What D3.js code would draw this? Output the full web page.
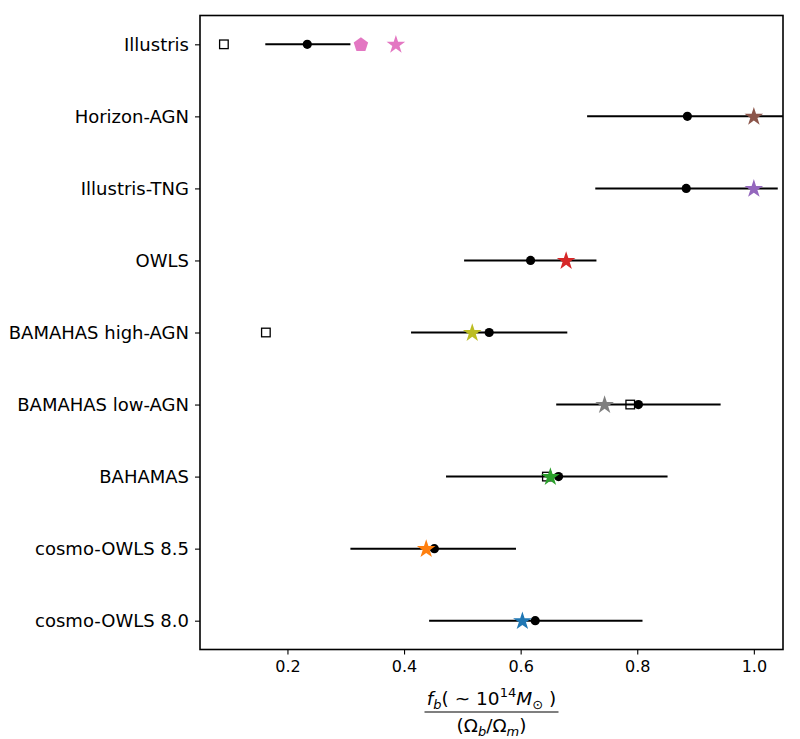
<!DOCTYPE html>
<html>
<head>
<meta charset="utf-8">
<script src="https://cdn.jsdelivr.net/npm/d3@7"></script>
<style>
  body { margin: 0; background: #fff; }
  svg { display: block; font-family: "DejaVu Sans", sans-serif; }
</style>
</head>
<body>
<svg id="chart" width="800" height="739"></svg>
<script>
// ---- data ----
const categories = ["cosmo-OWLS 8.0", "cosmo-OWLS 8.5", "BAHAMAS", "BAMAHAS low-AGN",
  "BAMAHAS high-AGN", "OWLS", "Illustris-TNG", "Horizon-AGN", "Illustris"];
const centralValues = [0.625, 0.452, 0.665, 0.802, 0.546, 0.617, 0.884, 0.886, 0.234];
const lowerValues   = [0.443, 0.308, 0.472, 0.661, 0.412, 0.503, 0.728, 0.714, 0.162];
const upperValues   = [0.809, 0.592, 0.852, 0.943, 0.680, 0.730, 1.041, 1.100, 0.308];
const starValues    = [0.603, 0.438, 0.651, 0.744, 0.517, 0.678, 1.000, 1.000, 0.386];
const starColors    = ["#1f77b4", "#ff7f0e", "#2ca02c", "#7f7f7f", "#bcbd22", "#d62728", "#9467bd", "#8c564b", "#e377c2"];
const squareCats    = ["BAMAHAS high-AGN", "BAMAHAS low-AGN", "BAHAMAS", "Illustris"];
const squareValues  = [0.163, 0.788, 0.645, 0.091];
const pentagonCats  = ["Illustris"];
const pentagonValues = [0.326];
const xTicks = [0.2, 0.4, 0.6, 0.8, 1.0];

// ---- layout ----
const svg = d3.select("#chart");
const L = 200, R = 783, T = 15.5, B = 649.5;
const x = d3.scaleLinear().domain([0.05, 1.05]).range([L, R]);
const y = d3.scaleLinear().domain([-0.4, 8.4]).range([B, T]);
const yOf = c => y(categories.indexOf(c));

svg.append("defs").append("clipPath").attr("id", "clip")
  .append("rect").attr("x", L).attr("y", T).attr("width", R - L).attr("height", B - T);

const plot = svg.append("g").attr("clip-path", "url(#clip)");

function polyPath(n, rOuter, rInner) {
  const pts = [];
  const k = rInner == null ? n : 2 * n;
  for (let i = 0; i < k; i++) {
    const a = -Math.PI / 2 + i * 2 * Math.PI / k;
    const r = (rInner == null || i % 2 === 0) ? rOuter : rInner;
    pts.push([r * Math.cos(a), r * Math.sin(a)]);
  }
  return "M" + pts.map(p => p[0].toFixed(2) + "," + p[1].toFixed(2)).join("L") + "Z";
}

// squares
plot.selectAll(".sq").data(squareCats.map((c, i) => ({c, v: squareValues[i]})))
  .enter().append("rect")
  .attr("x", d => x(d.v) - 4.3).attr("y", d => yOf(d.c) - 4.3)
  .attr("width", 8.6).attr("height", 8.6)
  .attr("fill", "#fff").attr("stroke", "#000").attr("stroke-width", 1.3);

// error bars
const rows = categories.map((c, i) => ({c, i, v: centralValues[i], lo: lowerValues[i], hi: upperValues[i], s: starValues[i], col: starColors[i]}));
plot.selectAll(".eb").data(rows).enter().append("line")
  .attr("x1", d => x(d.lo)).attr("x2", d => x(d.hi))
  .attr("y1", d => y(d.i)).attr("y2", d => y(d.i))
  .attr("stroke", "#000").attr("stroke-width", 2);
plot.selectAll(".dot").data(rows).enter().append("circle")
  .attr("cx", d => x(d.v)).attr("cy", d => y(d.i)).attr("r", 4.6).attr("fill", "#000");

// stars
const starD = polyPath(5, 9.8, 9.8 * 0.381966);
plot.selectAll(".star").data(rows).enter().append("path")
  .attr("d", starD)
  .attr("transform", d => `translate(${x(d.s)},${y(d.i) + 0.5})`)
  .attr("fill", d => d.col);

// pentagon
const pentD = polyPath(5, 7.6);
plot.selectAll(".pent").data(pentagonCats.map((c, i) => ({c, v: pentagonValues[i]})))
  .enter().append("path")
  .attr("d", pentD)
  .attr("transform", d => `translate(${x(d.v)},${yOf(d.c) + 0.5})`)
  .attr("fill", "#e377c2");

// axes
const xAxis = d3.axisBottom(x).tickValues(xTicks).tickFormat(d3.format(".1f")).tickSize(5).tickPadding(6);
const gx = svg.append("g").attr("transform", `translate(0,${B})`).call(xAxis);
gx.select(".domain").remove();
gx.selectAll("line").attr("stroke", "#000").attr("stroke-width", 1.1);
gx.selectAll("text").attr("font-size", 16).attr("font-family", "DejaVu Sans").attr("fill", "#000");

const yAxis = d3.axisLeft(y).tickValues(d3.range(categories.length)).tickFormat(i => categories[i]).tickSize(5).tickPadding(6);
const gy = svg.append("g").attr("transform", `translate(${L},0)`).call(yAxis);
gy.select(".domain").remove();
gy.selectAll("line").attr("stroke", "#000").attr("stroke-width", 1.1);
gy.selectAll("text").attr("font-size", 18).attr("font-family", "DejaVu Sans").attr("fill", "#000");

// frame
svg.append("rect").attr("x", L).attr("y", T).attr("width", R - L).attr("height", B - T)
  .attr("fill", "none").attr("stroke", "#000").attr("stroke-width", 1.6);

// x label (fraction)
const cx = (L + R) / 2;
const num = svg.append("text").attr("x", cx).attr("y", 705).attr("text-anchor", "middle")
  .attr("font-size", 18.5).attr("fill", "#000");
num.append("tspan").attr("font-style", "italic").text("f");
num.append("tspan").attr("font-style", "italic").attr("font-size", 13).attr("dy", 4).text("b");
num.append("tspan").attr("dy", -4).text("( ~ 10");
num.append("tspan").attr("font-size", 13).attr("dy", -8).text("14");
num.append("tspan").attr("font-style", "italic").attr("dy", 8).text("M");
num.append("tspan").attr("font-size", 13).attr("dy", 4).text("⊙");
num.append("tspan").attr("dy", -4).text(" )");

svg.append("line").attr("x1", cx - 67).attr("x2", cx + 67).attr("y1", 712).attr("y2", 712)
  .attr("stroke", "#000").attr("stroke-width", 1.1);

const den = svg.append("text").attr("x", cx).attr("y", 732).attr("text-anchor", "middle")
  .attr("font-size", 18.5).attr("fill", "#000");
den.append("tspan").text("(Ω");
den.append("tspan").attr("font-style", "italic").attr("font-size", 13).attr("dy", 4).text("b");
den.append("tspan").attr("dy", -4).text("/Ω");
den.append("tspan").attr("font-style", "italic").attr("font-size", 13).attr("dy", 4).text("m");
den.append("tspan").attr("dy", -4).text(")");
</script>
</body>
</html>
